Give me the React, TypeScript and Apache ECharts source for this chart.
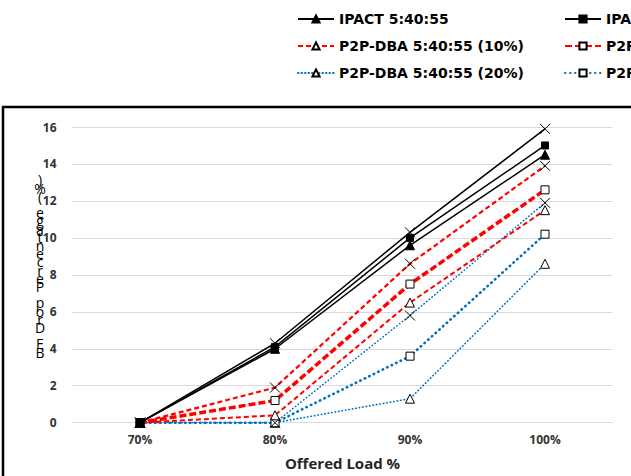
import React, { useEffect, useRef } from "react";
import * as echarts from "echarts";

const categories = ["70%", "80%", "90%", "100%"];
const yTicks = { min: 0, max: 16, interval: 2 };

const ipactA = [0, 4.0, 9.6, 14.5];
const ipactB = [0, 4.1, 10.0, 15.0];
const ipactC = [0, 4.3, 10.3, 15.9];
const p2p10A = [0, 0.4, 6.5, 11.5];
const p2p10B = [0, 1.2, 7.5, 12.6];
const p2p10C = [0, 1.9, 8.6, 13.9];
const p2p20A = [0, 0, 1.3, 8.6];
const p2p20B = [0, 0, 3.6, 10.2];
const p2p20C = [0, 0, 5.8, 11.9];

const names = [
  "IPACT 5:40:55",
  "IPACT 5:30:65",
  "IPACT 5:20:75",
  "P2P-DBA 5:40:55 (10%)",
  "P2P-DBA 5:30:65 (10%)",
  "P2P-DBA 5:20:75 (10%)",
  "P2P-DBA 5:40:55 (20%)",
  "P2P-DBA 5:30:65 (20%)",
  "P2P-DBA 5:20:75 (20%)",
];

const yAxisTitle = "BE Drop Percentage (%)";
const xAxisTitle = "Offered Load %";

const X_PATH = "path://M0,0L10,10M10,0L0,10";

export default function App() {
  const ref = useRef<HTMLDivElement>(null);
  useEffect(() => {
    document.body.style.margin = "0";
    const chart = echarts.init(ref.current!, null, { renderer: "svg" });
    const RED = "#FF0000";
    const BLUE = "#0070C0";
    const mk = (
      name: string,
      data: number[],
      color: string,
      type: any,
      width: number,
      symbol: string,
      size: number,
      filled: boolean,
      cap: any = "butt"
    ) => ({
      name,
      type: "line",
      data,
      symbol,
      symbolSize: size,
      showSymbol: true,
      lineStyle: { color, width, type, cap },
      itemStyle: symbol === X_PATH
        ? { color: "transparent", borderColor: "#000", borderWidth: 1 }
        : filled
          ? { color: "#000", borderColor: "#000", borderWidth: 1 }
          : { color: "#fff", borderColor: "#000", borderWidth: 1 },
      emphasis: { disabled: true },
      z: 2,
    });
    const labelFont = { fontFamily: "Open Sans", fontWeight: "bold" as const, fontSize: 12, color: "#333" };
    const legendText = { fontFamily: "DejaVu Sans", fontWeight: "bold" as const, fontSize: 14, lineHeight: 14, color: "#000" };
    const legendBase = {
      top: 12, orient: "vertical", itemWidth: 36, itemHeight: 9, itemGap: 13, padding: 0,
      textStyle: legendText, selectedMode: false,
    };
    const stacked = yAxisTitle.split("").reverse().join("\n");
    chart.setOption({
      animation: false,
      legend: [
        { ...legendBase, left: 297, data: [names[0], names[3], names[6]] },
        { ...legendBase, left: 564, data: [names[1], names[4], names[7]] },
        { ...legendBase, left: 900, data: [names[2], names[5], names[8]] },
      ],
      grid: { left: 72.5, right: 18.5, top: 127, bottom: 53.3 },
      xAxis: {
        type: "category",
        data: categories,
        boundaryGap: true,
        axisLine: { show: true, lineStyle: { color: "#d9d9d9", width: 1 } },
        axisTick: { show: false },
        axisLabel: { ...labelFont, margin: 11 },
        name: xAxisTitle,
        nameLocation: "middle",
        nameGap: 33,
        nameTextStyle: { fontFamily: "Open Sans", fontWeight: "bold", fontSize: 15, color: "#262626" },
      },
      yAxis: {
        type: "value",
        ...yTicks,
        axisLine: { show: false },
        axisTick: { show: false },
        axisLabel: { ...labelFont, margin: 16 },
        splitLine: { lineStyle: { color: "#d9d9d9", width: 1 } },
      },
      graphic: [
        {
          type: "rect",
          shape: { x: 3, y: 107, width: 800, height: 600 },
          style: { fill: "none", stroke: "#000", lineWidth: 2.5 },
          silent: true,
        },
        {
          type: "text",
          x: 40,
          y: 266,
          style: {
            text: stacked,
            fontFamily: "Open Sans",
            fontSize: 14,
            lineHeight: 8.2,
            fill: "#000",
            align: "center",
            verticalAlign: "middle",
          },
          silent: true,
        },
      ],
      series: [
        mk(names[6], p2p20A, BLUE, [0.5, 3], 1.6, "triangle", 9, false, "round"),
        mk(names[7], p2p20B, BLUE, [0.5, 4.5], 2.6, "rect", 8, false, "round"),
        mk(names[8], p2p20C, BLUE, [0.5, 3], 1.5, X_PATH, 10, false, "round"),
        mk(names[3], p2p10A, RED, [5, 3], 2, "triangle", 9, false),
        mk(names[4], p2p10B, RED, [7, 3], 3.5, "rect", 8, false),
        mk(names[5], p2p10C, RED, [5, 3], 2.2, X_PATH, 10, false),
        mk(names[0], ipactA, "#000", "solid", 1.5, "triangle", 9, true),
        mk(names[1], ipactB, "#000", "solid", 1.5, "rect", 7, true),
        mk(names[2], ipactC, "#000", "solid", 1.5, X_PATH, 10, false),
      ],
    });
    return () => chart.dispose();
  }, []);
  return <div ref={ref} style={{ width: 631, height: 476 }} />;
}
